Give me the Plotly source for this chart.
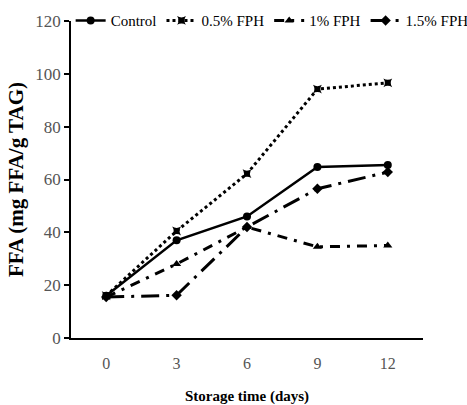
import plotly.graph_objects as go

days = [0, 3, 6, 9, 12]
control = [16.0, 37.0, 46.0, 64.7, 65.5]
fph05 = [16.0, 40.5, 62.2, 94.2, 96.6]
fph10 = [15.5, 28.0, 42.0, 34.5, 35.0]
fph15 = [15.5, 16.2, 42.0, 56.5, 62.8]
series_names = ["Control", "0.5% FPH", "1% FPH", "1.5% FPH"]
yticks = [0, 20, 40, 60, 80, 100, 120]

FONT = "Liberation Serif"

fig = go.Figure()
fig.add_trace(go.Scatter(x=days, y=control, name=series_names[0], mode="lines+markers",
                         line=dict(color="black", width=2.5, dash="solid"),
                         marker=dict(symbol="circle", size=8, color="black")))
fig.add_trace(go.Scatter(x=days, y=fph05, name=series_names[1], mode="lines+markers",
                         line=dict(color="black", width=3, dash="dot"),
                         marker=dict(symbol="star-square", size=8, color="black")))
fig.add_trace(go.Scatter(x=days, y=fph10, name=series_names[2], mode="lines+markers",
                         line=dict(color="black", width=3, dash="10px,7px,3px,7px"),
                         marker=dict(symbol="triangle-up", size=8, color="black")))
fig.add_trace(go.Scatter(x=days, y=fph15, name=series_names[3], mode="lines+markers",
                         line=dict(color="black", width=3, dash="18px,7px,3px,7px"),
                         marker=dict(symbol="diamond", size=8, color="black")))

fig.update_layout(
    width=467, height=405,
    margin=dict(l=71, r=44, t=21, b=67, autoexpand=False),
    paper_bgcolor="white", plot_bgcolor="white",
    font=dict(family=FONT, color="black"),
    showlegend=True,
    legend=dict(orientation="h", x=-0.001, xanchor="left", y=1.001, yanchor="middle",
                font=dict(family=FONT, size=15, color="black"),
                bgcolor="rgba(0,0,0,0)", itemwidth=30, tracegroupgap=0,
                traceorder="normal"),
    xaxis=dict(range=[-1.5, 13.5], tickvals=days, ticktext=[str(d) for d in days],
               showgrid=False, zeroline=False, showline=True, linecolor="black", linewidth=2,
               ticks="", ticklabelstandoff=10, automargin=False,
               tickfont=dict(family=FONT, size=16, color="#555555"),
               title=dict(text="<b>Storage time (days)</b>", font=dict(family=FONT, size=15, color="black"),
                          standoff=20)),
    yaxis=dict(range=[0, 120], tickvals=yticks, showgrid=False, zeroline=False,
               showline=True, linecolor="black", linewidth=1.5, automargin=False,
               ticks="outside", ticklen=5, tickcolor="black", tickwidth=1.5,
               tickfont=dict(family=FONT, size=17, color="#555555"),
               title=dict(text="<b>FFA (mg FFA/g TAG)</b>", font=dict(family=FONT, size=21, color="black"),
                          standoff=6)),
)

fig.write_html("out.html")
